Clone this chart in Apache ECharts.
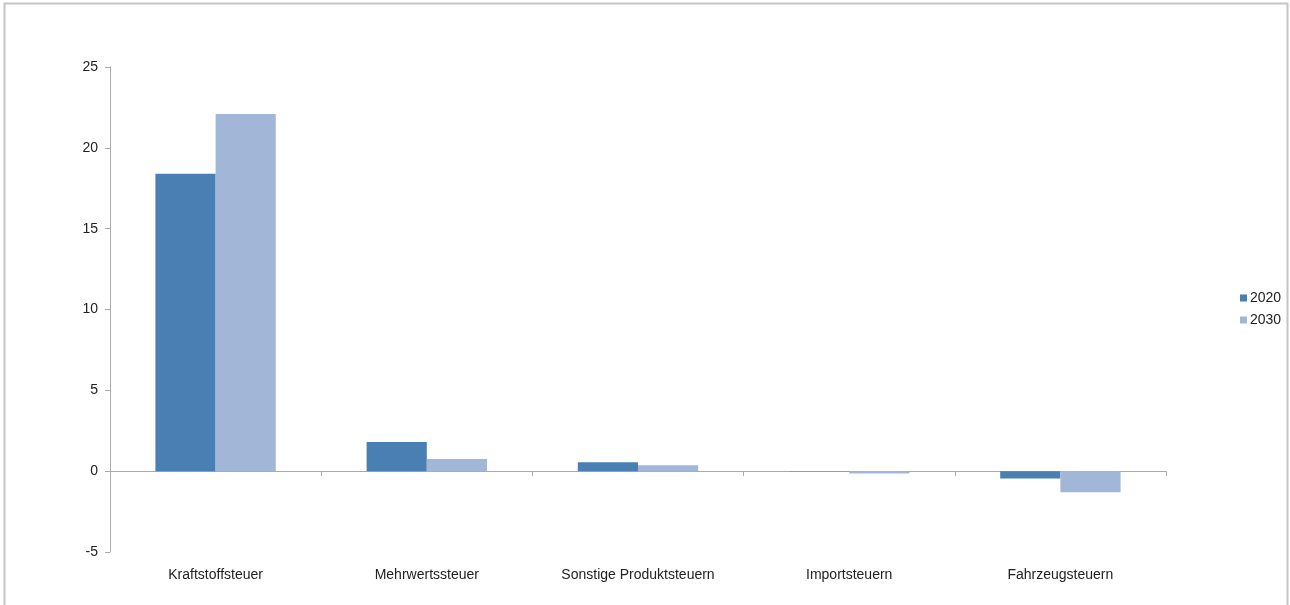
<!DOCTYPE html>
<html>
<head>
<meta charset="utf-8">
<script src="https://cdn.jsdelivr.net/npm/echarts@6/dist/echarts.min.js"></script>
<style>
html,body{margin:0;padding:0;background:#fff;}
#chart{width:1290px;height:605px;}
</style>
</head>
<body>
<div id="chart"></div>
<script>
const categories = ['Kraftstoffsteuer', 'Mehrwertssteuer', 'Sonstige Produktsteuern', 'Importsteuern', 'Fahrzeugsteuern'];
const values2020 = [18.4, 1.8, 0.55, -0.02, -0.45];
const values2030 = [22.1, 0.75, 0.36, -0.15, -1.3];
const seriesNames = ['2020', '2030'];
const yTicks = [-5, 0, 5, 10, 15, 20, 25];

const chart = echarts.init(document.getElementById('chart'), null, {renderer: 'canvas'});
const font = 'Liberation Sans, Arial, sans-serif';
chart.setOption({
  animation: false,
  backgroundColor: '#fff',
  graphic: [{
    type: 'rect',
    shape: {x: 4.5, y: 3.5, width: 1283, height: 620},
    style: {fill: 'none', stroke: '#c4c4c4', lineWidth: 2},
    silent: true
  }],
  grid: {left: 110, right: 124, top: 67, bottom: 53},
  legend: {
    orient: 'vertical',
    left: 1235, top: 286,
    itemWidth: 7, itemHeight: 7, itemGap: 8,
    icon: 'rect',
    textStyle: {fontFamily: font, fontSize: 14, color: '#222', padding: [0,0,0,-2]},
    data: seriesNames
  },
  xAxis: [{
    type: 'category',
    data: categories,
    position: 'bottom',
    axisLine: {show: false, onZero: false},
    axisTick: {show: false},
    axisLabel: {fontFamily: font, fontSize: 14, color: '#222', margin: 16, interval: 0}
  }, {
    type: 'category',
    data: categories,
    position: 'bottom',
    axisLine: {show: true, onZero: true, lineStyle: {color: '#aaa', width: 1}},
    axisTick: {show: true, length: 5, inside: false, lineStyle: {color: '#aaa'}},
    axisLabel: {show: false}
  }],
  yAxis: {
    type: 'value',
    min: yTicks[0], max: yTicks[yTicks.length - 1], interval: 5,
    splitLine: {show: false},
    axisLine: {show: true, lineStyle: {color: '#aaa'}},
    axisTick: {show: true, length: 5, lineStyle: {color: '#aaa'}},
    axisLabel: {fontFamily: font, fontSize: 14, color: '#222', margin: 12}
  },
  series: [{
    name: seriesNames[0], type: 'bar', xAxisIndex: 0,
    data: values2020, barGap: '0%', barCategoryGap: '43%',
    itemStyle: {color: '#4a7fb4'}
  }, {
    name: seriesNames[1], type: 'bar', xAxisIndex: 0,
    data: values2030, barGap: '0%', barCategoryGap: '43%',
    itemStyle: {color: '#a2b7d8'}
  }]
});
</script>
</body>
</html>
